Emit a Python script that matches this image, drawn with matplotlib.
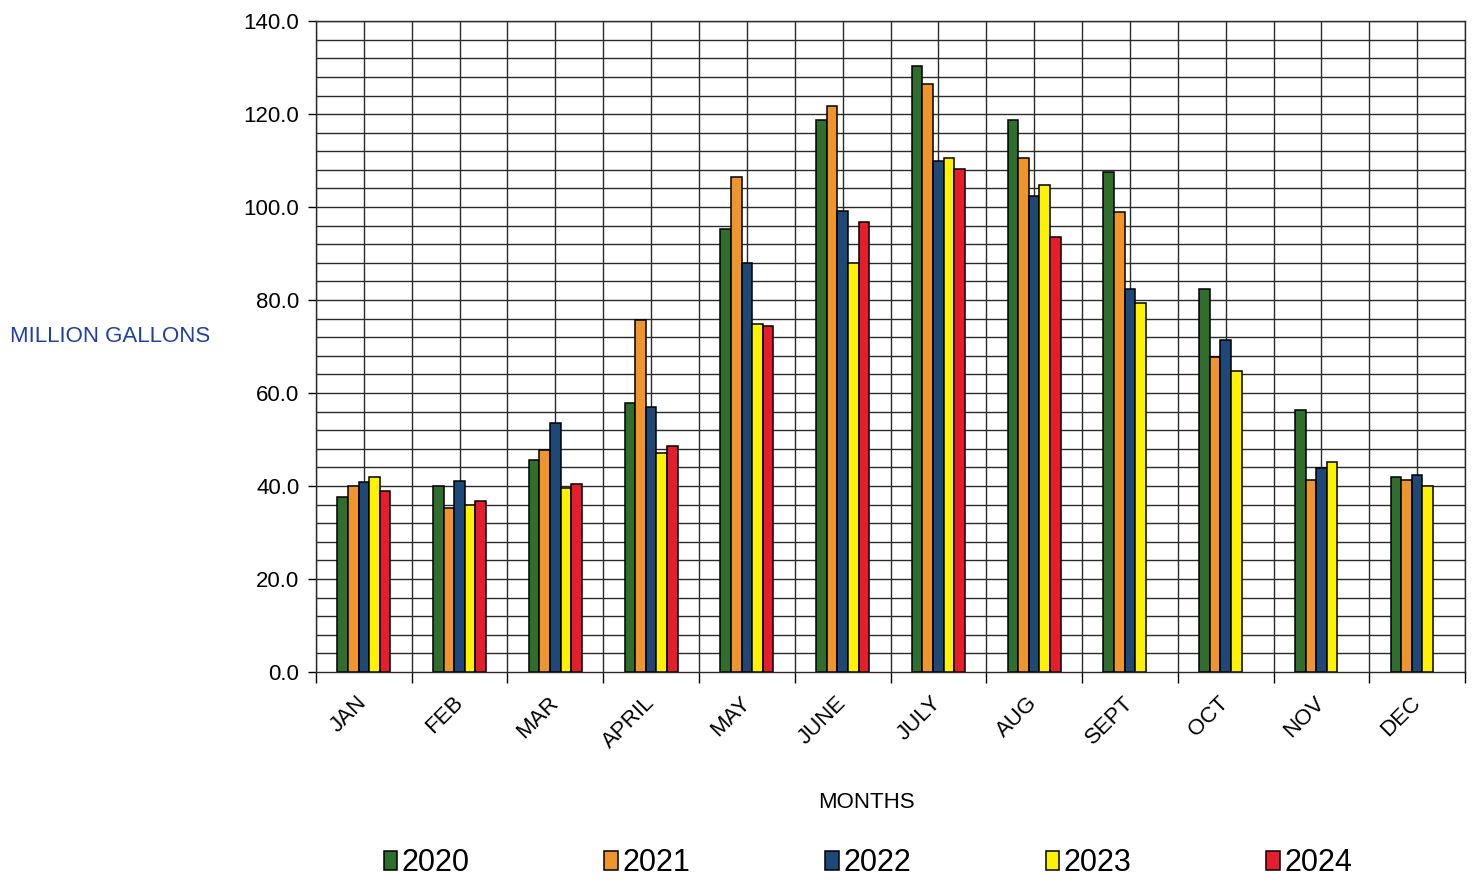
import numpy as np
import matplotlib.pyplot as plt
from matplotlib.ticker import MultipleLocator, FixedLocator

months = ['JAN', 'FEB', 'MAR', 'APRIL', 'MAY', 'JUNE', 'JULY', 'AUG', 'SEPT', 'OCT', 'NOV', 'DEC']
years = ['2020', '2021', '2022', '2023', '2024']

# million gallons pumped per month
y2020 = [37.7, 40.0, 45.6, 57.8, 95.3, 118.7, 130.4, 118.8, 107.6, 82.4, 56.3, 42.0]
y2021 = [40.0, 35.2, 47.7, 75.7, 106.5, 121.7, 126.5, 110.5, 98.9, 67.8, 41.4, 41.4]
y2022 = [40.8, 41.1, 53.5, 56.9, 88.0, 99.1, 110.0, 102.4, 82.4, 71.4, 43.9, 42.3]
y2023 = [42.0, 36.0, 39.5, 47.2, 74.8, 88.0, 110.6, 104.7, 79.3, 64.7, 45.2, 40.0]
y2024 = [38.9, 36.8, 40.4, 48.6, 74.4, 96.8, 108.2, 93.5, np.nan, np.nan, np.nan, np.nan]

series = [y2020, y2021, y2022, y2023, y2024]
colors = ['#2f6e2c', '#f0952c', '#1d4878', '#fff200', '#e61e2b']

plt.rcParams['font.family'] = ['Liberation Sans', 'DejaVu Sans']

fig = plt.figure(figsize=(14.73, 8.8), dpi=100)
ax = fig.add_axes([0.2145, 0.2364, 0.7801, 0.7396])

x = np.arange(len(months))
w = 0.1107
for k, (vals, c, yr) in enumerate(zip(series, colors, years)):
    ax.bar(x + (k - 2) * w, vals, width=w, color=c, edgecolor='black',
           linewidth=1.1, label=yr, zorder=3)

ax.set_xlim(-0.5, len(months) - 0.5)
ax.set_ylim(0, 140)

# grid every 4 units across, every half month down
for yv in np.arange(4, 141, 4):
    ax.axhline(yv, color='#2a2a2a', linewidth=1.0, zorder=1)
for xv in np.arange(-0.5, len(months), 0.5):
    ax.axvline(xv, color='#2a2a2a', linewidth=1.0, zorder=1)

ax.yaxis.set_major_locator(MultipleLocator(20))
ax.set_yticklabels([f'{v:.1f}' for v in ax.get_yticks()])
ax.tick_params(axis='y', direction='out', length=6, width=1, labelsize=16, pad=6)

ax.set_xticks(x)
ax.set_xticklabels(months, rotation=45, ha='right', va='center',
                   rotation_mode='anchor', fontsize=16)
ax.tick_params(axis='x', length=0, pad=20)
ax.xaxis.set_minor_locator(FixedLocator(np.arange(-0.5, len(months), 1.0)))
ax.tick_params(axis='x', which='minor', direction='out', length=8, width=1)

for s in ax.spines.values():
    s.set_color('#2a2a2a')
    s.set_linewidth(1.0)

fig.text(866 / 1473, 1 - 802 / 880, 'MONTHS', ha='center', va='center', fontsize=16)
fig.text(10 / 1473, 1 - 336 / 880, 'MILLION GALLONS', ha='left', va='center',
         fontsize=16, color='#1c3fa8')

leg = fig.legend(loc='center', bbox_to_anchor=(868 / 1473, 1 - 863 / 880), ncol=5,
                 frameon=False, handlelength=0.45, handleheight=0.6, handletextpad=0.15,
                 columnspacing=4.4, prop={'size': 22})

plt.savefig('out.png', dpi=100)
